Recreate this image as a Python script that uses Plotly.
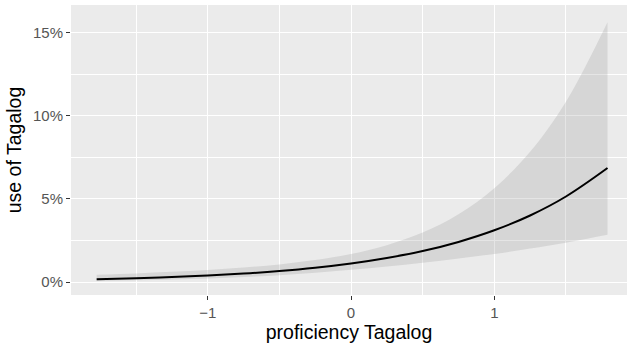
import plotly.graph_objects as go

# Predicted probability of using Tagalog by proficiency, with 95% band
proficiency = [-1.775, -1.5, -1.25, -1.0, -0.75, -0.5, -0.25, 0.0,
               0.25, 0.5, 0.75, 1.0, 1.25, 1.5, 1.79]
fit = [0.00174, 0.00232, 0.00301, 0.00391, 0.00508, 0.00659, 0.00855, 0.0111,
       0.0144, 0.0186, 0.0241, 0.0311, 0.0400, 0.0514, 0.0685]
upper = [0.00434, 0.00518, 0.00612, 0.00727, 0.00871, 0.0106, 0.0132, 0.0168,
         0.0221, 0.0297, 0.0407, 0.0564, 0.0783, 0.1084, 0.1562]
lower = [0.00069, 0.00104, 0.00148, 0.00210, 0.00296, 0.00410, 0.00556, 0.00732,
         0.00936, 0.0116, 0.0141, 0.0169, 0.0201, 0.0236, 0.0284]

x_ticks = [-1, 0, 1]
y_ticks = [0, 0.05, 0.10, 0.15]

fig = go.Figure()
fig.add_trace(go.Scatter(x=proficiency, y=lower, mode="lines",
                         line=dict(width=0, shape="spline"), hoverinfo="skip",
                         showlegend=False))
fig.add_trace(go.Scatter(x=proficiency, y=upper, mode="lines",
                         line=dict(width=0, shape="spline"), fill="tonexty",
                         fillcolor="rgba(153,153,153,0.25)", hoverinfo="skip",
                         showlegend=False))
fig.add_trace(go.Scatter(x=proficiency, y=fit, mode="lines",
                         line=dict(color="black", width=2, shape="spline"),
                         showlegend=False))

font = "Liberation Sans, Arial, Helvetica, sans-serif"
fig.update_layout(
    width=627, height=347,
    margin=dict(l=71, r=0, t=5, b=52),
    paper_bgcolor="white",
    plot_bgcolor="#EBEBEB",
    font=dict(family=font, color="#4D4D4D", size=15),
    xaxis=dict(
        range=[-1.954, 1.926], tickvals=x_ticks, zeroline=False,
        showgrid=True, gridcolor="white", gridwidth=1.4,
        ticks="outside", ticklen=4, tickwidth=1.2, tickcolor="#333333",
        tickfont=dict(size=15, color="#555555"),
        minor=dict(dtick=0.5, tick0=0, showgrid=True, gridcolor="white", gridwidth=0.7),
        title=dict(text="proficiency Tagalog", font=dict(size=19.5, color="black"),
                   standoff=4),
    ),
    yaxis=dict(
        range=[-0.0078, 0.1665], tickvals=y_ticks, tickformat=".0%", zeroline=False,
        showgrid=True, gridcolor="white", gridwidth=1.4,
        ticks="outside", ticklen=4, tickwidth=1.2, tickcolor="#333333",
        tickfont=dict(size=15, color="#555555"),
        minor=dict(dtick=0.025, tick0=0, showgrid=True, gridcolor="white", gridwidth=0.7),
        title=dict(text="use of Tagalog", font=dict(size=19.5, color="black"),
                   standoff=6),
    ),
)

fig.write_html("out.html")
